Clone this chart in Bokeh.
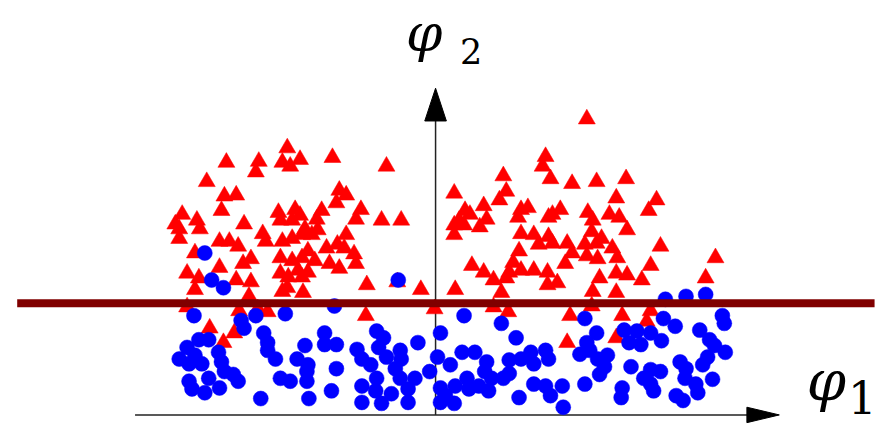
from bokeh.plotting import figure
from bokeh.models import Range1d, Label
from bokeh.embed import file_html
from bokeh.resources import INLINE

# ---- data (phi1, phi2); origin at the axis crossing ----
red_phi1 = [-151, -138, -180, -213, -156, -148, -183, -233, -215, -203, -218, -258, -160, -143,
            -243, -265, -261, -240, -195, -158, -146, -138, -176, -261, -220, -210, -201, -173,
            -156, -146, -136, -245, -188, -196, -158, -146, -136, -220, -253, -241, -203, -188,
            -158, -150, -140, -245, -200, -181, -171, -253, -230, -205, -216, -190, -156, -151,
            -135,
            -105, -50, -98, -91, -101, -76, -81, -55, -35, -116, -121, -133, -126, -120, -91,
            -100, -111, -93, -83, -81, -130, -123, -108, -98, -130, -136, -70, -39, -15, -1, -71,
            154, 112, 109, 117, 69, 139, 19, 72, 65, 49, 52, 45, 30, 35, 24, 19, 29, 19, 87, 94,
            84, 119, 127, 115, 155, 87, 100, 105, 115, 119, 134, 139, 132, 152, 154, 85, 79, 75,
            87, 100, 114, 37, 49, 59, 72, 20, 114, 124, 67, 59, 74, 137, 134,
            164, 194, 184, 225, 217, 160, 177, 187, 195, 159, 169, 164, 180, 185, 229, 165, 219,
            285, 167, 184, 195, 210, 275, 160, 159, 184, 219, 190, 215, 184]
red_phi2 = [277, 265, 263, 262, 262, 258, 252, 242, 227, 228, 212, 208, 210, 213,
            202, 198, 193, 193, 198, 202, 202, 207, 188, 183, 180, 180, 175, 180,
            180, 183, 187, 168, 162, 157, 163, 160, 163, 153, 147, 142, 140, 138,
            147, 143, 150, 130, 108, 110, 107, 112, 90, 85, 75, 123, 128, 132,
            127,
            267, 258, 233, 228, 220, 213, 203, 202, 202, 212, 203, 193, 187, 192, 187,
            177, 173, 173, 167, 157, 170, 160, 157, 152, 148, 143, 135, 138, 130, 110, 103,
            307, 268, 258, 245, 248, 240, 230, 232, 223, 217, 203, 195, 212, 208, 202, 197, 197, 187, 213, 215,
            205, 208, 213, 205, 210, 188, 187, 177, 185, 178, 178, 168, 157, 177, 165, 170, 158, 148,
            150, 150, 148, 155, 148, 140, 142, 130, 135, 137, 127, 112, 107, 103, 75,
            242, 245, 225, 223, 212, 202, 208, 205, 192, 190, 183, 178, 173, 163, 175, 162, 155,
            163, 142, 147, 145, 140, 142, 128, 113, 127, 108, 103, 97, 80]

blue_phi1 = [-235, -228, -216, -153, -246, -183, -198, -195, -175, -171, -241, -231, -253, -261,
             -251, -238, -245, -221, -218, -215, -206, -201, -251, -248, -231, -220, -235, -171,
             -163, -158, -148, -141, -133, -131, -178, -129,
             -38, -103, -113, -113, -101, -130, -131, -80, -75, -60, -53, -58, -50, -101, -106,
             -66, -60, -36, -35, -41, -36, -18, -75, -61, -45, -28, -21, -6, -75, -55, -28,
             5, 2, 5, 5,
             29, 67, 82, 152, 15, 27, 40, 52, 50, 57, 69, 75, 75, 87, 97, 100, 112, 115, 32, 34,
             20, 10, 19, 44, 54, 100, 112, 117, 129, 85, 130, 152, 147, 154,
             234, 255, 275, 292, 294, 232, 244, 164, 192, 205, 219, 230, 209, 197, 269, 279, 284,
             295, 157, 165, 175, 172, 167, 199, 219, 229, 212, 219, 249, 255, 272, 277, 282, 254,
             265, 267, 190, 189, 222, 245, 252]
blue_phi2 = [168, 140, 132, 105, 103, 103, 98, 90, 85, 75, 78, 78, 70, 58,
             53, 53, 62, 65, 55, 45, 42, 35, 35, 27, 38, 28, 23, 67,
             58, 38, 35, 58, 72, 45, 17, 17,
             140, 113, 85, 73, 73, 52, 35, 68, 58, 87, 80, 70, 60, 48, 25,
             52, 38, 67, 58, 48, 38, 75, 30, 25, 22, 27, 38, 45, 13, 12, 13,
             85, 60, 28, 13,
             103, 95, 80, 100, 52, 65, 65, 55, 45, 38, 38, 43, 57, 58, 65, 53, 67, 58, 38, 27,
             30, 20, 12, 30, 25, 32, 30, 20, 30, 18, 8, 32, 63, 75,
             120, 123, 125, 103, 95, 100, 92, 85, 88, 87, 85, 77, 73, 75, 88, 78, 72,
             65, 67, 58, 62, 50, 42, 50, 47, 45, 38, 32, 55, 48, 52, 60, 37, 38,
             32, 23, 28, 18, 25, 20, 15]

threshold_phi2 = 116          # dark red separating line
line_phi1 = (-426, 447)       # extent of the separating line
axis_phi1 = (-306, 350)       # horizontal axis, tail to arrow tip
axis_phi2 = (0, 339)          # vertical axis, tail to arrow tip
x_label = ("\u03c6", "1")
y_label = ("\u03c6", "2")

# ---- figure ----
p = figure(width=878, height=426, output_backend="svg", toolbar_location=None,
           x_range=Range1d(-443, 451), y_range=Range1d(-12, 430),
           min_border=0, outline_line_color=None, background_fill_color="white")
p.axis.visible = False
p.grid.visible = False

# axes with arrow heads
AX = "#222222"
hx = axis_phi1[1]
vy = axis_phi2[1]
p.segment(x0=[axis_phi1[0]], y0=[0], x1=[hx - 30], y1=[0], line_color=AX, line_width=1.5)
p.segment(x0=[0], y0=[axis_phi2[0]], x1=[0], y1=[vy - 30], line_color=AX, line_width=1.5)
p.patch(x=[hx, hx - 33, hx - 33], y=[0, 8, -8], fill_color="black", line_color="black")
p.patch(x=[0, -11, 11], y=[vy, vy - 34, vy - 34], fill_color="black", line_color="black")

# points
p.scatter(red_phi1, red_phi2, marker="triangle", size=17, fill_color="#ff0000",
          line_color="#ff0000", line_width=0.5)
p.scatter(blue_phi1, blue_phi2, marker="circle", size=15, fill_color="#0000ff",
          line_color="#0000ff", line_width=0.5)

# separating line
p.segment(x0=[line_phi1[0]], y0=[threshold_phi2], x1=[line_phi1[1]], y1=[threshold_phi2],
          line_color="#800000", line_width=8)

# labels
FONT = "DejaVu Serif"
p.add_layout(Label(x=-30, y=365, text=y_label[0], text_font=FONT, text_font_style="italic",
                   text_font_size="52px", text_line_height=1.0, text_color="black"))
p.add_layout(Label(x=25, y=364, text=y_label[1], text_font=FONT,
                   text_font_size="35px", text_line_height=1.0, text_color="black"))
p.add_layout(Label(x=378, y=2, text=x_label[0], text_font=FONT, text_font_style="italic",
                   text_font_size="56px", text_color="black"))
p.add_layout(Label(x=420, y=1, text=x_label[1], text_font=FONT,
                   text_font_size="45px", text_color="black"))

open("out.html", "w").write(file_html(p, INLINE))
